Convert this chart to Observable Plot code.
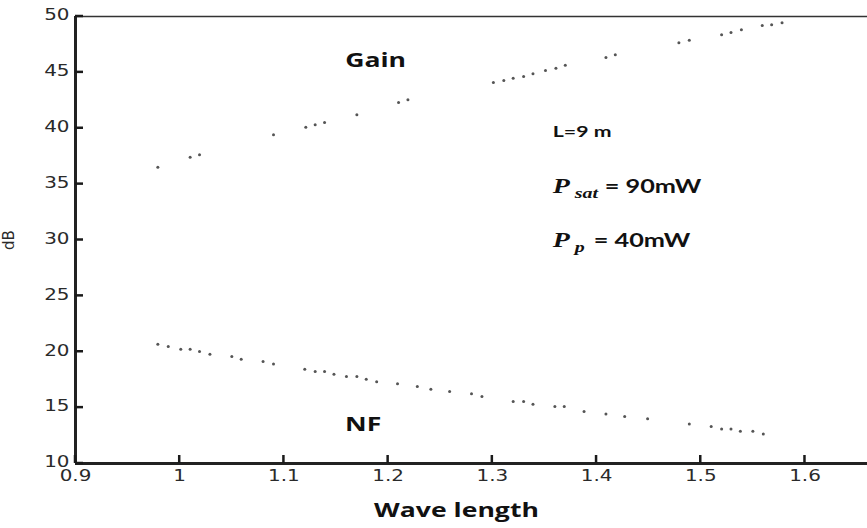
<!DOCTYPE html>
<html>
<head>
<meta charset="utf-8">
<script src="https://cdn.jsdelivr.net/npm/d3@7"></script>
<script src="https://cdn.jsdelivr.net/npm/@observablehq/plot@0.6"></script>
<style>
  html, body { margin: 0; padding: 0; background: #fff; }
</style>
</head>
<body>
<div id="chart"></div>
<script>
// Wavelength (x) and dB values
const gainX = [0.979, 1.010, 1.019, 1.090, 1.121, 1.130, 1.139, 1.170, 1.210, 1.219,
  1.301, 1.311, 1.320, 1.330, 1.339, 1.351, 1.361, 1.370, 1.409, 1.418,
  1.479, 1.489, 1.520, 1.529, 1.539, 1.559, 1.568, 1.578];
const gainY = [36.51, 37.41, 37.62, 39.41, 40.09, 40.31, 40.51, 41.20, 42.30, 42.55,
  44.09, 44.27, 44.48, 44.63, 44.87, 45.17, 45.37, 45.64, 46.33, 46.57,
  47.65, 47.88, 48.36, 48.57, 48.81, 49.19, 49.26, 49.44];

const nfX = [0.979, 0.989, 1.001, 1.010, 1.019, 1.029, 1.050, 1.059, 1.080, 1.090,
  1.120, 1.130, 1.139, 1.148, 1.160, 1.170, 1.179, 1.189, 1.209, 1.228,
  1.241, 1.259, 1.280, 1.290, 1.320, 1.330, 1.339, 1.360, 1.369, 1.388,
  1.409, 1.427, 1.449, 1.489, 1.510, 1.520, 1.529, 1.538, 1.550, 1.560];
const nfY = [20.68, 20.47, 20.23, 20.23, 20.02, 19.78, 19.57, 19.33, 19.13, 18.90,
  18.44, 18.23, 18.23, 17.99, 17.79, 17.79, 17.54, 17.31, 17.13, 16.89,
  16.65, 16.44, 16.24, 16.00, 15.55, 15.55, 15.31, 15.10, 15.10, 14.65,
  14.43, 14.21, 14.00, 13.53, 13.31, 13.09, 13.09, 12.88, 12.88, 12.64];

const xTicks = [0.9, 1.0, 1.1, 1.2, 1.3, 1.4, 1.5, 1.6];
const xTickLabels = ["0.9", "1", "1.1", "1.2", "1.3", "1.4", "1.5", "1.6"];
const yTicks = [10, 15, 20, 25, 30, 35, 40, 45, 50];
const yTickLabels = ["10", "15", "20", "25", "30", "35", "40", "45", "50"];

const xLabel = "Wave length";
const yLabel = "dB";

const seriesLabels = [
  {text: "Gain", x: 1.188, y: 45.44},
  {text: "NF", x: 1.176, y: 12.95}
];
const lengthNote = {text: "L=9 m", x: 1.358, y: 39.2};
const satNote = {sym: "P", sub: "sat", rest: "= 90mW", x: 1.358, y: 34.25};
const pumpNote = {sym: "P", sub: "p", rest: "= 40mW", x: 1.358, y: 29.36};

const gain = gainX.map((x, i) => ({x, y: gainY[i]}));
const nf = nfX.map((x, i) => ({x, y: nfY[i]}));

const sans = "'Open Sans', 'DejaVu Sans', sans-serif";
const tickFont = "'DejaVu Sans', sans-serif";
const serif = "'Liberation Serif', 'DejaVu Serif', serif";
const calibri = "Lato, 'Open Sans', sans-serif";

const W = 867, H = 528, mL = 75, mT = 16, mB = 65, mR = 0;
const xDomain = [0.9, 1.66], yDomain = [10, 50];
const tickLen = 8;

const chart = Plot.plot({
  width: W,
  height: H,
  marginLeft: mL,
  marginTop: mT,
  marginBottom: mB,
  marginRight: mR,
  style: {background: "#fff", color: "#333"},
  x: {domain: xDomain},
  y: {domain: yDomain},
  marks: [
    Plot.axisX(xTicks, {
      tickSize: 0, tickPadding: 7, className: "stretch",
      tickFormat: (d, i) => xTickLabels[i],
      fontSize: 15, fontFamily: tickFont, fill: "#2a2a2a", label: null
    }),
    Plot.axisY(yTicks, {
      tickSize: 0, tickPadding: 6, dy: -1, className: "stretch",
      tickFormat: (d, i) => yTickLabels[i],
      fontSize: 15, fontFamily: tickFont, fill: "#2a2a2a",
      label: yLabel, labelAnchor: "center", labelArrow: "none", labelOffset: 72
    }),
    Plot.ruleY([50], {stroke: "#333", strokeWidth: 1.6}),
    Plot.ruleY([10], {stroke: "#222", strokeWidth: 3}),
    Plot.ruleX([0.9], {stroke: "#222", strokeWidth: 3}),
    Plot.dot(gain, {x: "x", y: "y", r: 1.5, fill: "#555", stroke: "none"}),
    Plot.dot(nf, {x: "x", y: "y", r: 1.5, fill: "#555", stroke: "none"}),
    Plot.text(seriesLabels, {x: "x", y: "y", text: "text", lineAnchor: "bottom",
      fontSize: 20, fontWeight: "bold", fontFamily: sans, fill: "#111", className: "stretch"}),
    Plot.text([lengthNote], {x: "x", y: "y", text: "text", textAnchor: "start", lineAnchor: "bottom",
      fontSize: 16, fontFamily: calibri, fontWeight: "bold", fill: "#111", className: "stretch"}),
    // P symbols
    Plot.text([satNote, pumpNote], {x: "x", y: "y", text: "sym", textAnchor: "start", lineAnchor: "bottom",
      fontSize: 21, fontFamily: serif, fontWeight: "bold", fontStyle: "italic", fill: "#111",
      className: "stretch"}),
    // subscripts
    Plot.text([satNote, pumpNote], {x: "x", y: "y", text: "sub", textAnchor: "start", lineAnchor: "bottom",
      dx: 22, dy: 5, fontSize: 15, fontFamily: serif,
      fontWeight: "bold", fontStyle: "italic", fill: "#111", className: "stretch"}),
    // values
    Plot.text([satNote], {x: "x", y: "y", text: "rest", textAnchor: "start", lineAnchor: "bottom",
      dx: 52, fontSize: 19, fontFamily: calibri, fontWeight: "bold", fill: "#111", className: "stretch"}),
    Plot.text([pumpNote], {x: "x", y: "y", text: "rest", textAnchor: "start", lineAnchor: "bottom",
      dx: 41, fontSize: 19, fontFamily: calibri, fontWeight: "bold", fill: "#111", className: "stretch"}),
    Plot.text([xLabel], {x: [1.2656], frameAnchor: "bottom", lineAnchor: "bottom", dy: 53, text: d => d,
      fontSize: 20, fontWeight: "bold", fontFamily: sans, fill: "#111", className: "stretch"})
  ]
});
document.getElementById("chart").appendChild(chart);

// the reference's lettering is horizontally stretched; widen the glyphs the same way
chart.querySelectorAll(".stretch text").forEach(t => {
  if (t.textContent === yLabel) return;
  const tr = t.getAttribute("transform") || "";
  t.setAttribute("transform", tr + " scale(1.33,1)");
});

// inward tick marks, placed with the chart's own x and y scales
const sx = chart.scale("x"), sy = chart.scale("y");
const x0 = sx.apply(xDomain[0]), y0 = sy.apply(yDomain[0]);
const ticksG = d3.select(chart).append("g").attr("stroke", "#1a1a1a").attr("stroke-width", 2.5);
ticksG.selectAll("line.xt").data(xTicks).join("line")
  .attr("x1", d => sx.apply(d)).attr("x2", d => sx.apply(d))
  .attr("y1", y0).attr("y2", y0 - tickLen);
ticksG.selectAll("line.yt").data(yTicks).join("line")
  .attr("x1", x0).attr("x2", x0 + tickLen)
  .attr("y1", d => sy.apply(d)).attr("y2", d => sy.apply(d));
</script>
</body>
</html>
